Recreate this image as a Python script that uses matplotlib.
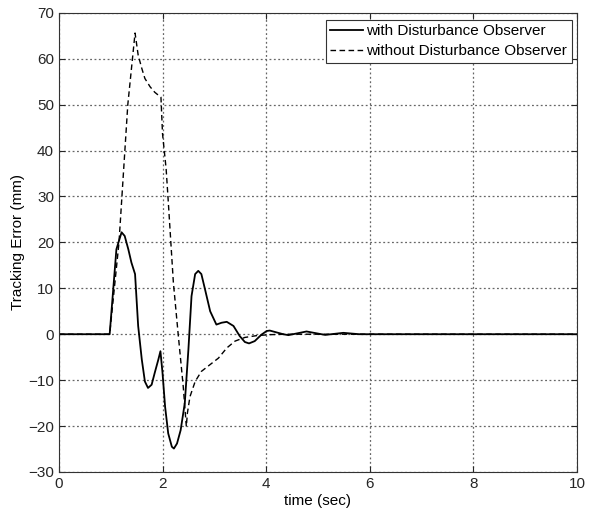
import numpy as np
import matplotlib.pyplot as plt

plt.rcParams['font.family'] = ['Liberation Sans', 'DejaVu Sans']

# tracking error with the disturbance observer (solid)
t_dob = [0.0, 0.98, 1.11, 1.21, 1.27, 1.34, 1.40, 1.47, 1.53, 1.60, 1.66, 1.72,
         1.79, 1.85, 1.92, 1.96, 2.00, 2.05, 2.11, 2.18, 2.22, 2.28, 2.35, 2.43,
         2.50, 2.56, 2.63, 2.69, 2.75, 2.82, 2.92, 3.04, 3.14, 3.24, 3.37, 3.49,
         3.59, 3.67, 3.78, 3.91, 4.01, 4.07, 4.20, 4.33, 4.43, 4.78, 5.14, 5.49,
         5.80, 10.0]
e_dob = [0.0, 0.0, 18.5, 22.2, 21.4, 18.5, 15.6, 13.1, 1.8, -5.5, -10.3, -11.7,
         -11.0, -8.4, -5.5, -3.7, -8.4, -15.8, -21.6, -24.5, -24.9, -23.8, -20.9, -15.0,
         -3.3, 8.3, 13.1, 13.8, 13.1, 9.8, 5.0, 2.1, 2.5, 2.7, 1.8, -0.4,
         -1.7, -2.0, -1.5, -0.1, 0.7, 0.8, 0.4, 0.0, -0.2, 0.6, -0.15, 0.3,
         0.0, 0.0]

# tracking error without the disturbance observer (dashed)
t_nodob = [0.0, 0.98, 1.16, 1.33, 1.47, 1.53, 1.60, 1.66, 1.76, 1.85, 1.97, 2.00,
           2.07, 2.11, 2.21, 2.30, 2.40, 2.46, 2.48, 2.53, 2.63, 2.75, 2.92, 3.08,
           3.24, 3.40, 3.59, 3.82, 4.07, 4.40, 10.0]
e_nodob = [0.0, 0.0, 20.0, 50.0, 65.6, 60.8, 57.9, 55.7, 53.9, 52.7, 51.6, 43.7,
           36.0, 29.1, 11.2, 0.3, -11.4, -20.1, -17.2, -13.6, -10.3, -8.1, -6.6, -5.2,
           -3.0, -1.5, -0.7, -0.3, -0.1, 0.0, 0.0]

fig = plt.figure(figsize=(6.01, 5.13), dpi=100)
ax = fig.add_axes([0.098, 0.080, 0.862, 0.895])

ax.plot(t_dob, e_dob, 'k-', lw=1.3, label='with Disturbance Observer')
ax.plot(t_nodob, e_nodob, 'k--', lw=1.0, dashes=(4, 2.5),
        label='without Disturbance Observer')

ax.set_xlim(0, 10)
ax.set_ylim(-30, 70)
ax.set_xticks(np.arange(0, 11, 2))
ax.set_yticks(np.arange(-30, 71, 10))
ax.grid(True, linestyle=(0, (1.5, 2)), color='0.4', linewidth=0.9)
ax.tick_params(direction='in', top=True, right=True, length=4, labelsize=11,
               colors='0.15')
for s in ax.spines.values():
    s.set_color('0.2')

ax.set_xlabel('time (sec)', fontsize=11, labelpad=2)
ax.set_ylabel('Tracking Error (mm)', fontsize=11, labelpad=2)

leg = ax.legend(loc='upper right', bbox_to_anchor=(0.990, 0.985), fontsize=11,
                fancybox=False, framealpha=1, edgecolor='0.2', borderaxespad=0,
                handlelength=2.1, handletextpad=0.25, labelspacing=0.4,
                borderpad=0.3)
leg.get_frame().set_linewidth(0.8)

fig.savefig('out.png', dpi=100)
